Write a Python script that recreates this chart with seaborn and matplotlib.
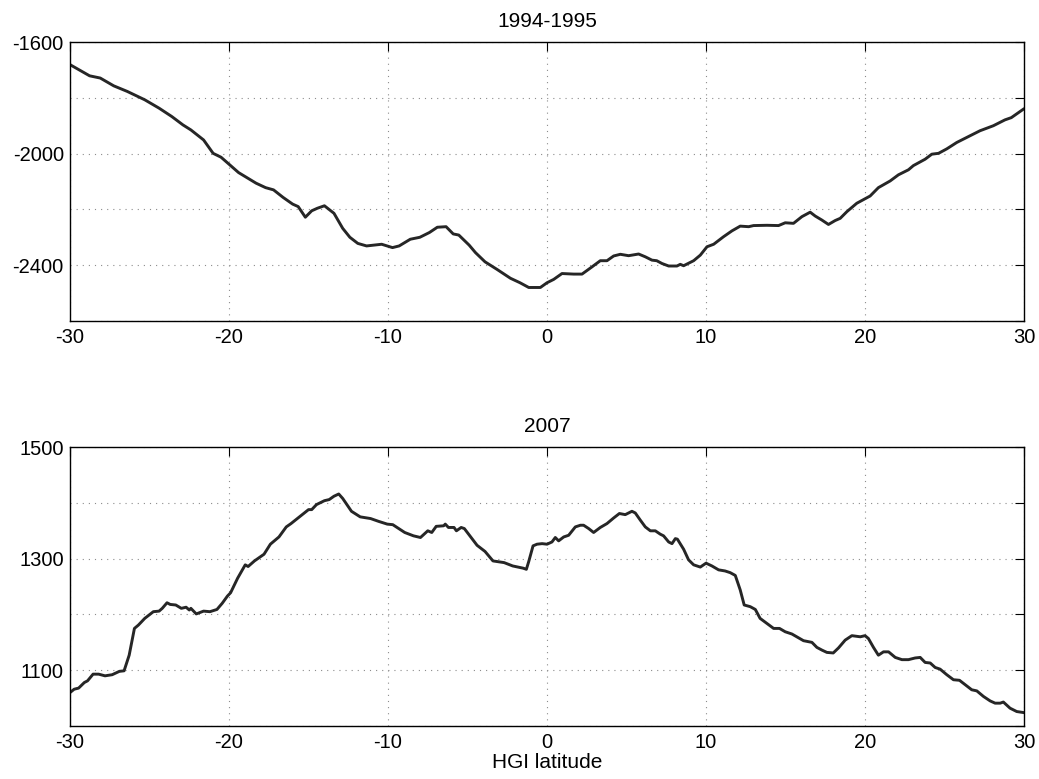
import numpy as np
import pandas as pd
import matplotlib
matplotlib.use("Agg")
import matplotlib.pyplot as plt
import seaborn as sns

# HGI latitude (deg) and field value, 1994-1995 interval
lat_9495 = [-30.0, -28.77, -28.1, -27.25, -26.4, -25.3, -24.4, -23.6, -22.9, -22.4,
            -21.6, -21.0, -20.5, -19.4, -18.3, -17.7, -17.2, -16.6, -16.0, -15.65,
            -15.2, -14.8, -14.45, -14.0, -13.4, -12.85, -12.4, -11.9, -11.35, -10.4,
            -9.72, -9.3, -8.6, -8.0, -7.4, -6.9, -6.35, -5.9, -5.55, -4.9,
            -4.5, -3.9, -3.15, -2.3, -1.7, -1.15, -0.42, 0.0, 0.42, 0.94,
            1.68, 2.2, 2.83, 3.35, 3.77, 4.19, 4.61, 5.13, 5.76, 6.18,
            6.6, 6.9, 7.23, 7.65, 8.17, 8.38, 8.59, 9.22, 9.64, 10.06,
            10.48, 11.1, 11.63, 12.15, 12.68, 12.99, 13.83, 14.56, 14.98, 15.5,
            16.03, 16.55, 16.87, 17.28, 17.7, 18.12, 18.44, 18.86, 19.48, 20.32,
            20.84, 21.58, 22.1, 22.73, 23.04, 23.78, 24.2, 24.62, 25.14, 25.77,
            26.5, 27.23, 28.07, 28.8, 29.2, 29.6, 30.0]
field_9495 = [-1681, -1721, -1729, -1757, -1777, -1807, -1837, -1867, -1897, -1915,
              -1951, -1999, -2013, -2068, -2106, -2122, -2130, -2157, -2181, -2190,
              -2228, -2205, -2196, -2187, -2214, -2268, -2300, -2322, -2331, -2325,
              -2337, -2331, -2307, -2300, -2283, -2264, -2262, -2288, -2292, -2328,
              -2355, -2388, -2415, -2447, -2463, -2480, -2480, -2463, -2451, -2430,
              -2432, -2432, -2406, -2384, -2384, -2367, -2361, -2366, -2360, -2370,
              -2382, -2384, -2394, -2403, -2403, -2397, -2402, -2384, -2364, -2334,
              -2325, -2298, -2277, -2260, -2262, -2258, -2257, -2258, -2248, -2250,
              -2226, -2210, -2224, -2238, -2254, -2240, -2232, -2208, -2178, -2152,
              -2122, -2098, -2076, -2058, -2043, -2020, -2002, -1999, -1983, -1960,
              -1939, -1918, -1900, -1879, -1871, -1855, -1839]

# HGI latitude (deg) and field value, 2007
lat_2007 = [-30.0, -29.74, -29.46, -29.1, -28.9, -28.55, -28.2, -27.8, -27.35, -26.9,
            -26.6, -26.28, -25.95, -25.7, -25.3, -24.76, -24.4, -24.2, -23.9, -23.7,
            -23.35, -23.0, -22.7, -22.5, -22.4, -22.06, -21.6, -21.2, -20.76, -20.43,
            -20.1, -19.9, -19.46, -18.98, -18.8, -18.4, -17.8, -17.4, -16.86, -16.4,
            -16.1, -15.7, -15.0, -14.8, -14.5, -14.0, -13.7, -13.4, -13.1, -12.85,
            -12.3, -11.75, -11.1, -10.6, -10.05, -9.7, -8.95, -8.4, -7.96, -7.5,
            -7.25, -6.97, -6.5, -6.4, -6.2, -5.85, -5.7, -5.4, -5.2, -4.4,
            -3.9, -3.4, -2.7, -2.16, -1.5, -1.3, -1.15, -0.88, -0.63, -0.31,
            0.0, 0.31, 0.52, 0.73, 1.05, 1.36, 1.78, 2.1, 2.3, 2.62,
            2.93, 3.35, 3.77, 4.19, 4.55, 4.92, 5.34, 5.55, 5.87, 6.18,
            6.5, 6.81, 7.12, 7.33, 7.65, 7.86, 8.07, 8.2, 8.59, 8.9,
            9.22, 9.64, 10.0, 10.37, 10.79, 11.2, 11.52, 11.84, 12.15, 12.4,
            12.78, 13.1, 13.4, 13.83, 14.25, 14.62, 14.98, 15.4, 15.7, 16.13,
            16.66, 16.97, 17.3, 17.6, 18.0, 18.33, 18.75, 19.17, 19.7, 20.0,
            20.21, 20.53, 20.84, 21.16, 21.48, 21.9, 22.32, 22.73, 23.15, 23.47,
            23.78, 24.1, 24.41, 24.72, 25.14, 25.56, 25.94, 26.3, 26.71, 27.03,
            27.45, 27.87, 28.18, 28.5, 28.7, 29.12, 29.54, 30.0]
field_2007 = [1060, 1066, 1068, 1078, 1081, 1093, 1093, 1090, 1092, 1098,
              1099, 1127, 1175, 1181, 1193, 1205, 1206, 1211, 1221, 1218,
              1217, 1211, 1213, 1208, 1211, 1201, 1206, 1205, 1209, 1220,
              1233, 1239, 1265, 1289, 1286, 1296, 1308, 1326, 1339, 1357,
              1363, 1372, 1388, 1388, 1397, 1404, 1406, 1412, 1416, 1408,
              1385, 1375, 1372, 1367, 1362, 1361, 1347, 1341, 1338, 1350,
              1347, 1358, 1359, 1362, 1356, 1356, 1350, 1356, 1354, 1324,
              1313, 1296, 1293, 1287, 1283, 1281, 1295, 1323, 1326, 1327,
              1326, 1330, 1338, 1332, 1339, 1342, 1357, 1360, 1360, 1354,
              1347, 1356, 1363, 1373, 1381, 1379, 1385, 1382, 1369, 1357,
              1350, 1350, 1344, 1341, 1330, 1327, 1336, 1335, 1317, 1298,
              1289, 1285, 1292, 1287, 1280, 1278, 1275, 1270, 1244, 1217,
              1214, 1209, 1193, 1184, 1175, 1175, 1169, 1165, 1160, 1153,
              1150, 1141, 1136, 1132, 1131, 1140, 1154, 1162, 1160, 1162,
              1157, 1141, 1127, 1133, 1133, 1123, 1119, 1119, 1122, 1123,
              1114, 1113, 1105, 1102, 1092, 1083, 1082, 1074, 1065, 1063,
              1053, 1045, 1041, 1041, 1043, 1032, 1026, 1024]

titles = ["1994-1995", "2007"]
x_ticks = [-30, -20, -10, 0, 10, 20, 30]
y_ticks_top = [-2600, -2400, -2200, -2000, -1800, -1600]
y_labels_top = ["", "-2400", "", "-2000", "", "-1600"]
y_ticks_bot = [1000, 1100, 1200, 1300, 1400, 1500]
y_labels_bot = ["", "1100", "", "1300", "", "1500"]

sns.set_style("white")
plt.rcParams["font.family"] = ["Liberation Sans", "DejaVu Sans"]
plt.rcParams["text.color"] = "black"
plt.rcParams["axes.labelcolor"] = "black"

fig = plt.figure(figsize=(10.39, 7.79), dpi=100)
ax1 = fig.add_axes([0.0674, 0.588, 0.9182, 0.358])
ax2 = fig.add_axes([0.0674, 0.068, 0.9182, 0.358])

frames = [
    pd.DataFrame({"lat": lat_9495, "val": field_9495}),
    pd.DataFrame({"lat": lat_2007, "val": field_2007}),
]
yspecs = [
    (y_ticks_top, y_labels_top, (-2600, -1600)),
    (y_ticks_bot, y_labels_bot, (1000, 1500)),
]

for ax, df, title, (yt, yl, ylim) in zip([ax1, ax2], frames, titles, yspecs):
    sns.lineplot(data=df, x="lat", y="val", ax=ax, color="#262626",
                 linewidth=2.1, estimator=None, sort=False)
    ax.set_xlim(-30, 30)
    ax.set_ylim(*ylim)
    ax.set_xticks(x_ticks)
    ax.set_xticklabels([str(t) for t in x_ticks])
    ax.set_yticks(yt)
    ax.set_yticklabels(yl)
    ax.grid(True, color="#8c8c8c", linestyle=(0, (1, 4.5)), linewidth=0.8)
    ax.tick_params(direction="in", length=6.5, width=0.8, top=True, right=True,
                   labelsize=14.5, colors="black")
    ax.tick_params(axis="x", pad=5)
    ax.tick_params(axis="y", pad=4.5)
    for sp in ax.spines.values():
        sp.set_visible(True)
        sp.set_color("black")
        sp.set_linewidth(1.0)
    ax.set_title(title, fontsize=15, pad=11, color="black")
    ax.set_ylabel("")
    ax.set_xlabel("")

ax2.set_xlabel("HGI latitude", fontsize=15, labelpad=1, color="black")

fig.savefig("out.png", dpi=100)
